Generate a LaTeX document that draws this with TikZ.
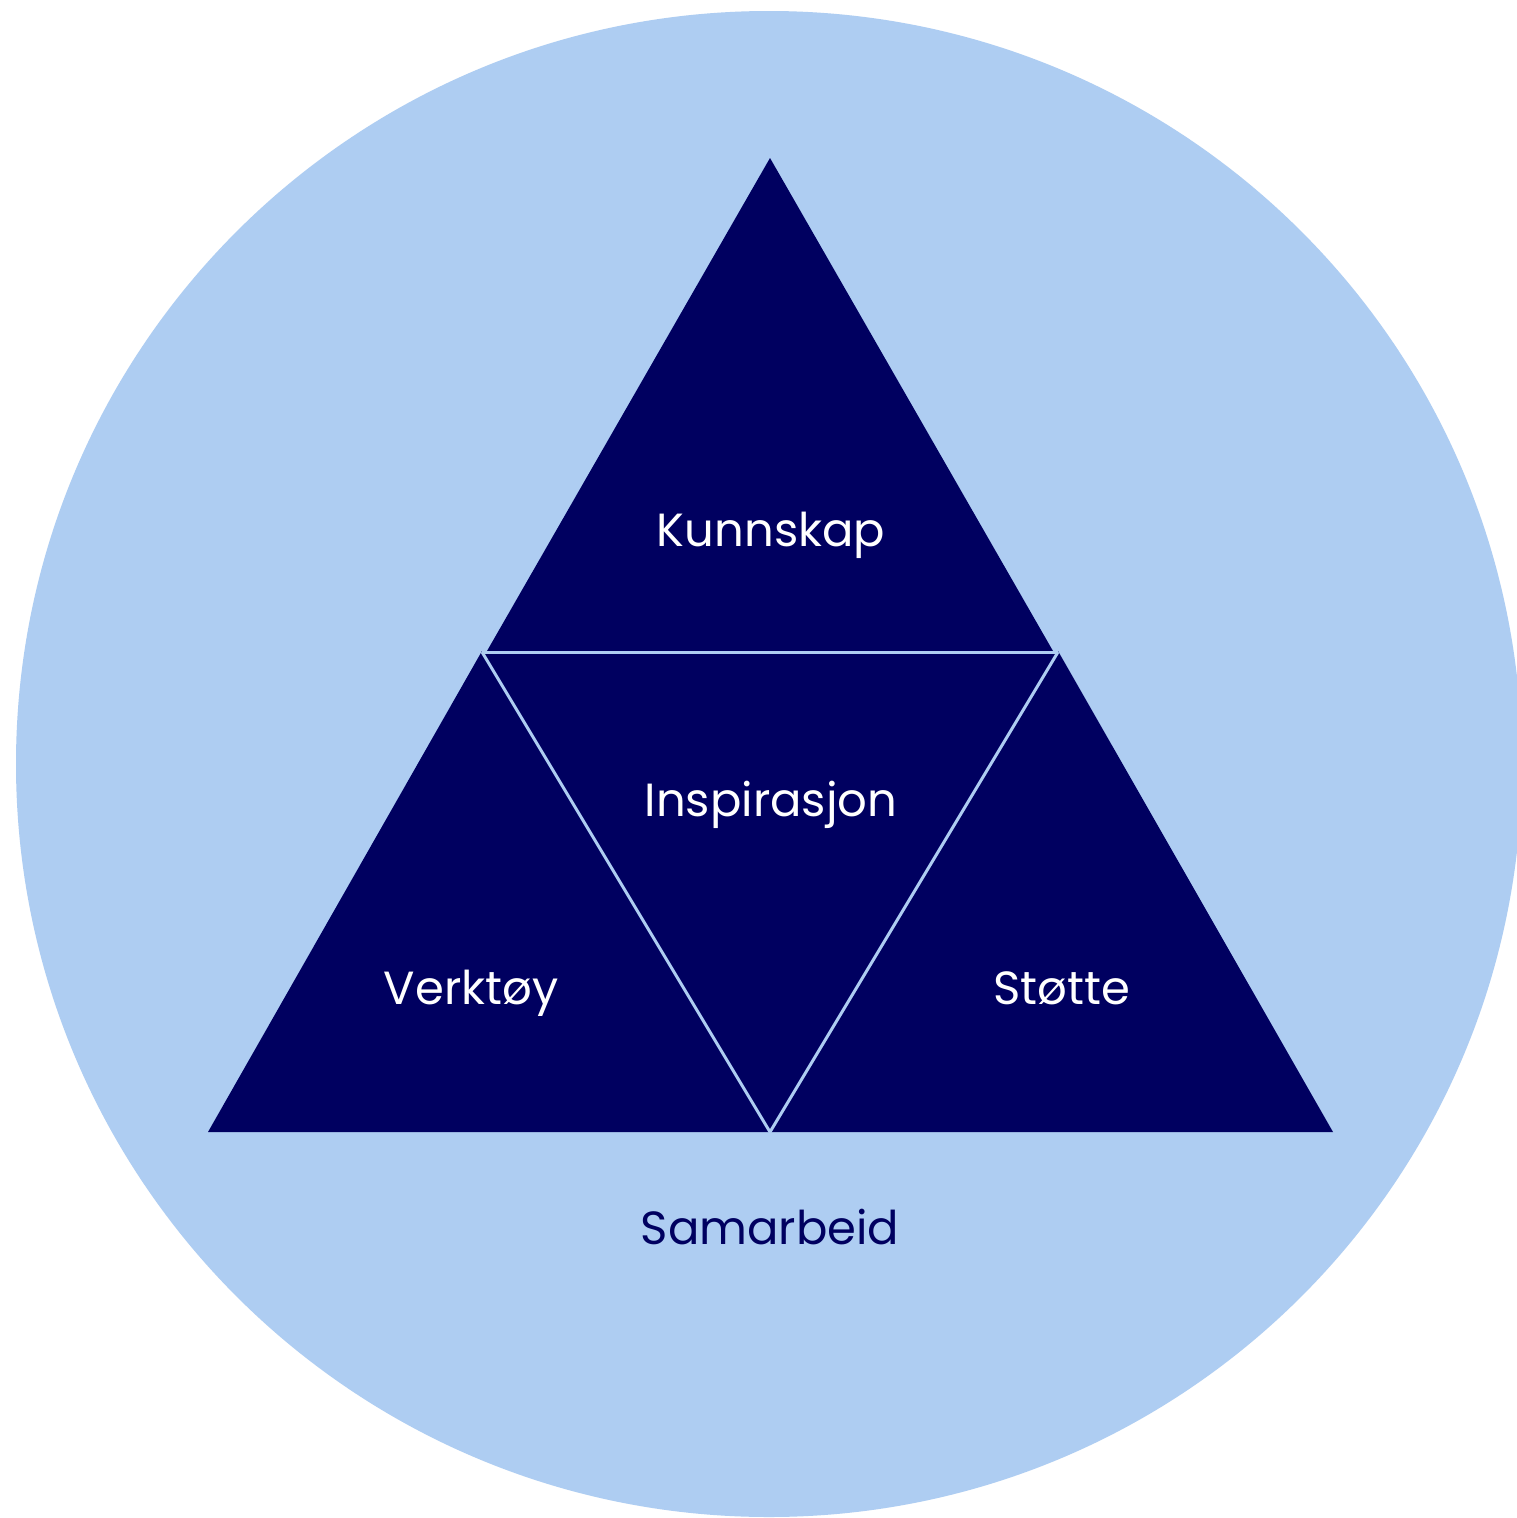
\documentclass[tikz,border=0pt]{standalone}
\usepackage{fontspec}
\setmainfont{Poppins}
\definecolor{circ}{RGB}{174,205,242}
\definecolor{navy}{RGB}{0,0,96}
\begin{document}
\begin{tikzpicture}[x=1pt,y=-1pt,
  lbl/.style={font=\fontsize{46.5}{52}\selectfont, inner sep=0pt, anchor=base},
  sep/.style={draw=circ, line width=3pt, line cap=butt}]
\useasboundingbox (0,0) rectangle (1517,1518);
\fill[white] (0,0) rectangle (1517,1518);
\fill[circ] (769,764) circle[radius=753];
% triangles
\fill[navy] (770,158) -- (487,651) -- (1053,651) -- cycle;
\fill[navy] (482,651) -- (208,1132) -- (770,1132) -- cycle;
\fill[navy] (1058,651) -- (770,1132) -- (1333,1132) -- cycle;
\fill[navy] (482,651) -- (1058,651) -- (770,1132) -- cycle;
\coordinate (pl) at (482,652);
\coordinate (pr) at (1058,652);
\coordinate (pb) at (770,1132);
\draw[sep] (pl) -- (pr);
\draw[sep] (pl) -- (pb) -- (pr);
% labels
\node[lbl, text=white] (kunn) at (771,546) {Kunnskap};
\node[lbl, text=white] (insp) at (771,816) {Inspirasjon};
\node[lbl, text=white] (verk) at (471,1004) {Verktøy};
\node[lbl, text=white] (stot) at (1062,1004) {Støtte};
\node[lbl, text=navy] (sama) at (770,1244) {Samarbeid};
\end{tikzpicture}
\end{document}
